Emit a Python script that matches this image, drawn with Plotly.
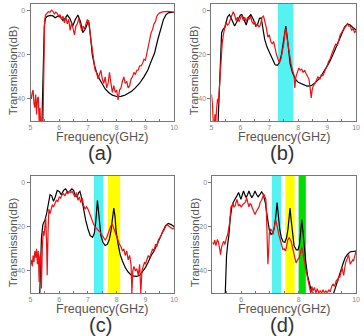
import plotly.graph_objects as go

# ---------------- data ----------------
a_black_x = [5.38, 5.42, 5.45, 5.48, 5.52, 5.58, 5.68, 5.78, 5.86, 5.95, 6.05, 6.13, 6.2, 6.28, 6.37, 6.47, 6.56, 6.65, 6.74, 6.82, 6.92, 7.02, 7.06, 7.1, 7.15, 7.22, 7.3, 7.4, 7.5, 7.6, 7.72, 7.85, 8.0, 8.15, 8.3, 8.42, 8.52, 8.65, 8.8, 8.95, 9.09, 9.2, 9.32, 9.43, 9.55, 9.63, 9.72, 9.8, 9.9, 10.0]
a_black_y = [-60, -40, -20, -7, -3.5, -2.6, -2.2, -2.4, -3.2, -2.5, -3, -4.5, -3.5, -2, -3.5, -7, -4, -2, -5, -10, -8, -4.5, -8, -14, -20, -24.5, -28, -31, -33.6, -35.5, -37.1, -38.3, -38.9, -38.8, -38.2, -37.3, -36.5, -35, -32.9, -30, -26.8, -23, -19.2, -13.2, -7.1, -4, -1.8, -1, -0.8, -0.8]
a_red_x = [5.0, 5.03, 5.06, 5.09, 5.12, 5.15, 5.18, 5.21, 5.24, 5.27, 5.3, 5.33, 5.36, 5.4, 5.43, 5.46, 5.49, 5.52, 5.57, 5.62, 5.68, 5.73, 5.78, 5.83, 5.88, 5.93, 5.98, 6.03, 6.08, 6.13, 6.18, 6.23, 6.28, 6.33, 6.38, 6.43, 6.48, 6.53, 6.58, 6.63, 6.68, 6.73, 6.78, 6.83, 6.88, 6.93, 6.98, 7.02, 7.06, 7.1, 7.15, 7.2, 7.25, 7.3, 7.35, 7.4, 7.45, 7.5, 7.55, 7.6, 7.65, 7.7, 7.75, 7.8, 7.85, 7.9, 7.95, 8.0, 8.05, 8.1, 8.15, 8.2, 8.25, 8.3, 8.35, 8.4, 8.45, 8.5, 8.55, 8.6, 8.65, 8.7, 8.75, 8.8, 8.85, 8.9, 8.95, 9.0, 9.05, 9.1, 9.15, 9.2, 9.25, 9.3, 9.35, 9.4, 9.45, 9.5, 9.6, 9.7, 9.8, 9.9, 10.0]
a_red_y = [-38, -40, -37, -36, -42, -44, -38, -47, -40, -39, -50, -44, -55, -60, -55, -20, -5, -2, -1, -0.5, -0.8, 0.2, -0.3, -1.5, -0.7, -1.2, -2.5, -1.8, -4, -2.5, -5.5, -3, -6, -4, -9, -5.5, -8, -11, -7, -6, -3.5, -6, -9, -7, -8.5, -6, -4, -5, -9, -14, -19, -24, -27, -28, -31, -29, -27, -31, -33, -30, -35, -33, -28, -33, -37, -34, -37, -36, -40.5, -36, -35, -32, -30, -33, -32, -35, -34, -31, -30, -28, -29, -27, -27, -25, -25, -24, -22, -22.5, -19, -16, -13, -10, -8.5, -6, -5, -2.5, -1.5, -1, -0.6, -0.3, -0.3, -0.5, -0.8]

b_black_x = [5.2, 5.25, 5.3, 5.35, 5.4, 5.47, 5.55, 5.62, 5.7, 5.8, 5.9, 6.0, 6.05, 6.13, 6.2, 6.28, 6.36, 6.45, 6.53, 6.6, 6.66, 6.72, 6.78, 6.84, 6.92, 7.0, 7.1, 7.2, 7.28, 7.35, 7.42, 7.48, 7.53, 7.57, 7.61, 7.66, 7.72, 7.8, 7.9, 8.0, 8.15, 8.3, 8.45, 8.6, 8.75, 8.9, 9.05, 9.2, 9.35, 9.5, 9.6, 9.7, 9.8, 9.9, 10.0]
b_black_y = [-60, -40, -20, -10, -8.5, -7.5, -3, -1.8, -4, -7, -4.5, -2, -1.8, -4, -6.5, -3, -1.8, -4, -7, -6, -3.5, -3.3, -8, -13, -16.5, -19, -22, -24.5, -24.8, -23.5, -20, -15, -10, -7, -11, -18, -24, -28, -31, -32.5, -33.5, -34.2, -34, -32.5, -30.5, -27.5, -24, -20, -15, -10.5, -7.5, -6, -6.5, -7.8, -8.8]
b_red_x = [5.0, 5.03, 5.06, 5.09, 5.12, 5.15, 5.18, 5.21, 5.24, 5.27, 5.3, 5.33, 5.37, 5.41, 5.45, 5.5, 5.55, 5.6, 5.65, 5.7, 5.75, 5.8, 5.85, 5.9, 5.95, 6.0, 6.05, 6.1, 6.15, 6.2, 6.25, 6.3, 6.35, 6.4, 6.45, 6.5, 6.55, 6.6, 6.65, 6.7, 6.75, 6.8, 6.85, 6.9, 6.95, 7.0, 7.05, 7.1, 7.15, 7.2, 7.25, 7.3, 7.35, 7.4, 7.45, 7.5, 7.55, 7.58, 7.62, 7.66, 7.7, 7.75, 7.8, 7.85, 7.88, 7.92, 7.97, 8.02, 8.07, 8.12, 8.17, 8.22, 8.27, 8.32, 8.37, 8.42, 8.45, 8.48, 8.52, 8.58, 8.63, 8.68, 8.75, 8.8, 8.85, 8.9, 8.95, 9.0, 9.05, 9.1, 9.15, 9.2, 9.25, 9.3, 9.35, 9.4, 9.45, 9.5, 9.55, 9.6, 9.65, 9.7, 9.75, 9.8, 9.85, 9.9, 9.95, 10.0]
b_red_y = [-38, -42, -50, -55, -47, -50, -44, -40, -42, -36, -30, -20, -15, -11, -8, -5, -6.5, -6, -4, -2, -0.5, -2, -4.5, -3, -5, -3.5, -2, -4.5, -3, -5, -3, -4, -2.5, -5, -6, -5, -7, -6.5, -7.5, -6, -3, -2.5, -5, -8, -12, -11, -14, -15, -14, -18, -20, -22, -23.5, -22, -19, -15, -9, -8.5, -13, -17, -21, -24, -27, -29, -35, -30, -28, -26, -27, -26.5, -28, -27, -28.5, -30, -31, -36, -39.5, -36, -34, -33, -31, -30, -31, -29, -29.5, -28, -27, -25, -23, -22, -20, -18, -17, -15, -16, -13, -11, -10, -9, -7.5, -6.5, -6, -7, -7, -9, -8, -10, -9]

c_black_x = [5.3, 5.34, 5.38, 5.43, 5.5, 5.56, 5.62, 5.68, 5.74, 5.8, 5.86, 5.93, 6.0, 6.07, 6.15, 6.22, 6.3, 6.36, 6.44, 6.5, 6.56, 6.62, 6.68, 6.72, 6.78, 6.85, 6.92, 7.0, 7.08, 7.16, 7.22, 7.27, 7.31, 7.33, 7.36, 7.4, 7.45, 7.52, 7.6, 7.67, 7.74, 7.8, 7.86, 7.9, 7.94, 7.98, 8.05, 8.12, 8.2, 8.3, 8.4, 8.5, 8.6, 8.7, 8.8, 8.9, 9.0, 9.1, 9.2, 9.3, 9.4, 9.5, 9.6, 9.7, 9.8, 9.9, 10.0]
c_black_y = [-60, -40, -25, -19, -17, -14, -9, -5.5, -6, -8.5, -6.5, -3.5, -4, -5.5, -3.5, -2.8, -4.5, -4, -2.8, -3.5, -6, -6.5, -4.5, -4, -7, -12.5, -17, -21, -24, -24.8, -23, -18, -10, -8, -12, -19, -24, -27, -28.5, -28, -26, -22, -15, -11.5, -15, -22, -28, -32.5, -35.5, -38.5, -40.5, -41.8, -42.4, -42.5, -42, -40.5, -38.5, -36, -33, -31, -28, -25, -22, -19.5, -18.5, -19, -20]
c_red_x = [5.0, 5.03, 5.06, 5.09, 5.12, 5.15, 5.18, 5.21, 5.24, 5.27, 5.3, 5.32, 5.35, 5.38, 5.41, 5.44, 5.47, 5.5, 5.53, 5.56, 5.58, 5.61, 5.64, 5.68, 5.72, 5.76, 5.8, 5.85, 5.9, 5.95, 6.0, 6.05, 6.1, 6.15, 6.2, 6.25, 6.3, 6.35, 6.4, 6.45, 6.5, 6.55, 6.6, 6.65, 6.7, 6.75, 6.8, 6.85, 6.9, 6.95, 7.0, 7.05, 7.1, 7.15, 7.2, 7.25, 7.3, 7.35, 7.4, 7.45, 7.5, 7.55, 7.6, 7.65, 7.7, 7.75, 7.8, 7.85, 7.9, 7.95, 8.0, 8.05, 8.1, 8.15, 8.2, 8.25, 8.3, 8.35, 8.4, 8.45, 8.5, 8.53, 8.56, 8.6, 8.65, 8.7, 8.75, 8.8, 8.84, 8.88, 8.92, 8.97, 9.0, 9.05, 9.1, 9.15, 9.2, 9.25, 9.3, 9.35, 9.4, 9.45, 9.5, 9.55, 9.6, 9.65, 9.7, 9.75, 9.8, 9.85, 9.9, 9.95, 10.0]
c_red_y = [-37, -35, -38, -33, -36, -31, -34, -30, -37, -31, -45, -34, -32, -48, -30, -22, -24, -18, -16, -28, -42, -22, -12, -14, -12, -10, -11, -9, -8, -8.5, -6.5, -7, -5.5, -5, -6, -4.5, -5, -4, -4.5, -4, -5, -6.5, -4.5, -8, -6.5, -9, -7, -10.5, -12, -11, -12, -14, -16, -17, -19, -20, -21, -21.5, -22, -23, -24, -25, -26, -25, -23, -21, -19.5, -19, -21, -23, -25, -26, -28, -29, -31, -30, -33, -31, -35, -33, -37, -50, -40, -38, -40, -39, -42, -37, -50, -40, -38, -36, -37, -35, -33, -34, -32, -30, -31, -28, -29, -26, -25, -24, -22, -21.5, -20, -19, -19.5, -20, -20.5, -21, -20.5]

d_black_x = [5.42, 5.46, 5.49, 5.53, 5.57, 5.62, 5.68, 5.74, 5.79, 5.85, 5.91, 5.95, 5.99, 6.04, 6.08, 6.13, 6.17, 6.22, 6.27, 6.32, 6.37, 6.43, 6.48, 6.54, 6.59, 6.65, 6.71, 6.76, 6.8, 6.84, 6.88, 6.93, 6.98, 7.04, 7.1, 7.15, 7.2, 7.25, 7.29, 7.34, 7.4, 7.46, 7.52, 7.58, 7.63, 7.67, 7.7, 7.74, 7.78, 7.84, 7.92, 7.98, 8.03, 8.07, 8.11, 8.15, 8.19, 8.25, 8.31, 8.37, 8.43, 8.5, 8.6, 8.8, 9.0, 9.15, 9.22, 9.28, 9.35, 9.45, 9.55, 9.62, 9.7, 9.8, 9.9, 10.0]
d_black_y = [-60, -40, -33, -28, -24, -16, -10.5, -8.5, -7.6, -6, -4.5, -6, -7.6, -5.5, -3.8, -5.5, -6.8, -5.5, -3.8, -5.5, -6.8, -5.5, -3.8, -5.5, -6.4, -5.5, -4.2, -5, -6.5, -9, -13, -18, -21.5, -23.5, -22.8, -20.5, -16, -9, -15, -21, -25, -26.8, -27, -25, -21, -16, -11.5, -17, -23, -28.5, -30.5, -30.5, -28, -23, -16.7, -22, -28, -36, -42, -46, -48.5, -50, -51, -52, -52, -51, -50, -47.7, -44.5, -40, -36.5, -34, -32.5, -31.3, -31, -31]
d_red_x = [5.0, 5.04, 5.08, 5.12, 5.17, 5.21, 5.25, 5.28, 5.32, 5.36, 5.39, 5.43, 5.47, 5.5, 5.53, 5.57, 5.6, 5.63, 5.65, 5.68, 5.71, 5.75, 5.79, 5.82, 5.85, 5.88, 5.9, 5.95, 6.0, 6.05, 6.1, 6.14, 6.17, 6.19, 6.23, 6.27, 6.31, 6.35, 6.4, 6.44, 6.48, 6.53, 6.57, 6.62, 6.66, 6.71, 6.75, 6.79, 6.83, 6.86, 6.88, 6.9, 6.93, 6.96, 6.98, 7.02, 7.05, 7.08, 7.11, 7.15, 7.2, 7.24, 7.28, 7.32, 7.36, 7.4, 7.45, 7.5, 7.54, 7.58, 7.62, 7.67, 7.7, 7.74, 7.78, 7.82, 7.87, 7.91, 7.96, 8.02, 8.06, 8.11, 8.14, 8.17, 8.21, 8.25, 8.3, 8.34, 8.37, 8.42, 8.46, 8.5, 8.55, 8.6, 8.65, 8.7, 8.75, 8.8, 8.85, 8.9, 8.95, 9.0, 9.05, 9.1, 9.15, 9.2, 9.25, 9.28, 9.32, 9.36, 9.39, 9.43, 9.47, 9.51, 9.55, 9.57, 9.6, 9.64, 9.68, 9.71, 9.74, 9.77, 9.8, 9.84, 9.88, 9.91, 9.95, 10.0]
d_red_y = [-27, -28, -26, -28.5, -25.8, -27, -30, -32.6, -29, -27, -26.5, -28, -25, -24.5, -23.5, -20, -18, -13, -10.6, -11, -9, -11, -10.6, -9, -7.6, -9, -10.6, -10, -11, -10, -9.5, -9, -8, -6.8, -9, -11, -9.5, -10, -12, -13, -14.4, -13, -12, -11, -9, -8, -6.5, -5.3, -6.5, -7.6, -14, -25.8, -37, -30, -22.7, -21, -21.5, -22, -23.5, -20, -16.7, -19, -22, -24, -25.8, -28, -30.3, -30, -31, -29, -26, -25, -25.5, -26.5, -29, -31.8, -34, -36.4, -35, -34, -32, -29.5, -31, -32.6, -36, -39.4, -43, -45, -47, -50, -47, -49, -47.5, -50, -48, -50, -49, -50, -48.5, -50, -49, -50, -48.5, -49.5, -47, -46, -47, -45.5, -44, -45, -42.4, -43, -40, -38.6, -41, -42, -39, -36, -35, -33, -32.6, -35, -37, -36, -35, -35.6, -33, -31]

# highlighted frequency bands (GHz)
b_bands = [(7.30, 7.83, "#55f2f2")]
c_bands = [(7.21, 7.54, "#55f2f2"), (7.70, 8.12, "#ffff00")]
d_bands = [(7.07, 7.39, "#55f2f2"), (7.54, 7.86, "#ffff00"), (8.00, 8.25, "#00dd00")]

y_ticks = [0, -20, -40]
y_ticklabels = ["0", "-20", "-40"]
x_ticks_abc = [5, 6, 7, 8, 9, 10]
x_ticks_d = [6, 8, 10]
panel_labels = ["(a)", "(b)", "(c)", "(d)"]
x_title = "Frequency(GHz)"
y_title = "Transmission(dB)"

W, H = 364, 336
# plot areas in pixels: (left, right, top, bottom)
boxes = [(29, 175, 4, 121), (213, 360, 4, 121), (29, 175, 176, 293), (214, 360, 176, 293)]

fig = go.Figure()
FONT = "Liberation Sans, Arial, sans-serif"

panels = [
    (a_black_x, a_black_y, a_red_x, a_red_y, [], x_ticks_abc),
    (b_black_x, b_black_y, b_red_x, b_red_y, b_bands, x_ticks_abc),
    (c_black_x, c_black_y, c_red_x, c_red_y, c_bands, x_ticks_abc),
    (d_black_x, d_black_y, d_red_x, d_red_y, d_bands, x_ticks_d),
]

shapes = []
annotations = []
for i, (bx, by, rx, ry, bands, xt) in enumerate(panels):
    n = "" if i == 0 else str(i + 1)
    xa, ya = "x" + n, "y" + n
    l, r, t, b = boxes[i]
    fig.add_trace(go.Scatter(x=bx, y=by, mode="lines", line=dict(color="black", width=1.2),
                             xaxis=xa, yaxis=ya, showlegend=False, hoverinfo="skip"))
    fig.add_trace(go.Scatter(x=rx, y=ry, mode="lines", line=dict(color="#ee1111", width=1.2),
                             xaxis=xa, yaxis=ya, showlegend=False, hoverinfo="skip"))
    for (x0, x1, col) in bands:
        shapes.append(dict(type="rect", xref=xa, yref=ya + " domain", x0=x0, x1=x1, y0=0, y1=1,
                           fillcolor=col, line=dict(width=0), layer="below"))
    axx = dict(domain=[l / W, r / W], range=[5, 10], anchor=ya, tickvals=xt,
               ticktext=[str(v) for v in xt], showline=True, mirror=True, linecolor="#777",
               linewidth=1, ticks="inside", ticklen=2, tickcolor="#777", showgrid=False,
               zeroline=False, tickfont=dict(size=7, color="#888", family=FONT),
               ticklabelstandoff=0,
               minor=dict(ticks="inside", ticklen=2, tickcolor="#777", dtick=0.5, showgrid=False))
    axy = dict(domain=[1 - b / H, 1 - t / H], range=[-50, 3], anchor=xa, tickvals=y_ticks,
               ticktext=y_ticklabels, showline=True, mirror=True, linecolor="#777", linewidth=1,
               ticks="outside", ticklen=3, tickcolor="#777", showgrid=False, zeroline=False,
               tickfont=dict(size=7, color="#888", family=FONT))
    fig.update_layout(**{"xaxis" + n: axx, "yaxis" + n: axy})
    cx = (l + r) / 2
    # axis titles and panel label
    annotations.append(dict(text=x_title, x=(cx) / W, y=1 - (b + 16) / H, xref="paper", yref="paper",
                            showarrow=False, font=dict(size=12.5, color="#555", family=FONT),
                            xanchor="center", yanchor="middle"))
    annotations.append(dict(text=y_title, x=(l - 18) / W, y=1 - ((t + b) / 2 + 8) / H, xref="paper",
                            yref="paper", showarrow=False, textangle=-90,
                            font=dict(size=11.5, color="#555", family=FONT),
                            xanchor="center", yanchor="middle"))
    annotations.append(dict(text=panel_labels[i], x=(cx - 2) / W, y=1 - (b + 31.5) / H, xref="paper",
                            yref="paper", showarrow=False, font=dict(size=20, color="#333", family=FONT),
                            xanchor="center", yanchor="middle"))

fig.update_layout(width=W, height=H, margin=dict(l=0, r=0, t=0, b=0),
                  paper_bgcolor="white", plot_bgcolor="white",
                  shapes=shapes, annotations=annotations, showlegend=False)

fig.write_html("out.html")
